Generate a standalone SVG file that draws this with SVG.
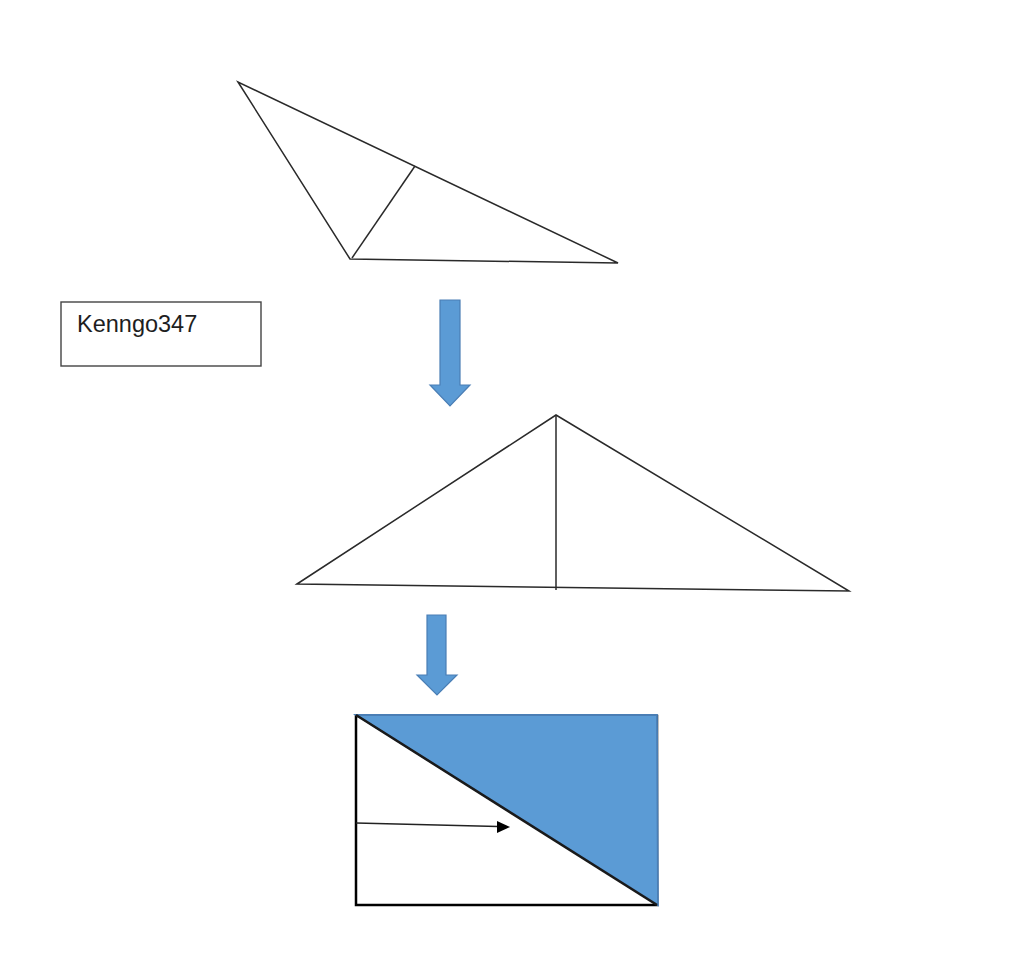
<svg xmlns="http://www.w3.org/2000/svg" width="1024" height="969" viewBox="0 0 1024 969">
<defs>
<style>
.ln{fill:none;stroke:#2a2a2a;stroke-width:1.5;stroke-linejoin:miter}
.blk{fill:#5B9BD5;stroke:#4A7EB5;stroke-width:1.2}
.lbl{font-family:"Liberation Sans",Arial,sans-serif;font-size:23.5px;fill:#1e1e1e}
</style>
</defs>
<rect width="1024" height="969" fill="#fff"/>
<g id="triangle1">
<polygon class="ln" points="238,82 350,259 618,263"/>
<line class="ln" x1="352" y1="258" x2="415" y2="166"/>
</g>
<g id="label">
<rect x="61" y="302" width="200" height="64" fill="#fff" stroke="#444" stroke-width="1.4"/>
<text class="lbl" x="77" y="332">Kenngo347</text>
</g>
<g id="triangle2">
<polygon class="ln" points="297,584 556,415 849,591"/>
<line class="ln" x1="556" y1="415" x2="556" y2="590"/>
</g>
<g id="rectangle">
<rect x="356" y="716" width="301" height="189" fill="#fff" stroke="#000" stroke-width="2.5"/>
<polygon points="356,715 657,715 658,905" fill="#5B9BD5" stroke="#4A7EB5" stroke-width="1.8"/>
<line x1="356" y1="715" x2="657" y2="905" stroke="#1a1a1a" stroke-width="2.5"/>
</g>
<g id="connectors">
<polygon class="blk" points="440,300 460,300 460,385 470,385 450,406 430,385 440,385"/>
<polygon class="blk" points="427,615 446,615 446,675 457,675 437,695 417,675 427,675"/>
<line x1="356" y1="823" x2="498" y2="826.5" stroke="#222" stroke-width="1.4"/>
<polygon points="497,821 510,827 497,833" fill="#000"/>
</g>
</svg>
